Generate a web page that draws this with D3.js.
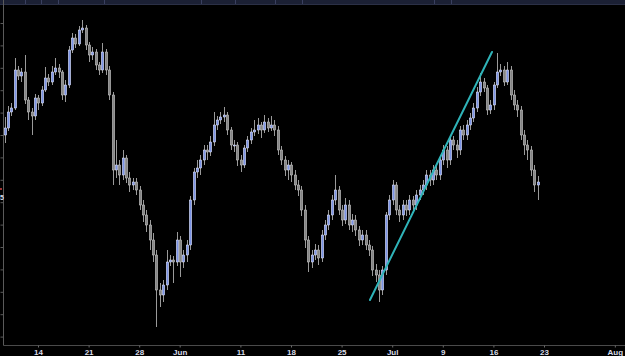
<!DOCTYPE html>
<html>
<head>
<meta charset="utf-8">
<script src="https://cdn.jsdelivr.net/npm/d3@7/dist/d3.min.js"></script>
<style>
html,body{margin:0;padding:0;background:#000;}
svg{display:block;}
</style>
</head>
<body>
<svg id="chart" width="625" height="356"></svg>
<script>
// ---- DATA ----
// trading-day index: 0 = May 14; 3 bars per trading day, first bar at day -3.3
const barsPerDay = 3;
const firstBarDay = -3.3;
const firstOpen = 225;
const closes = [
 232,248,252,290,284,288,260,248,244,262,
 257,270,282,278,288,292,288,265,275,310,
 322,316,330,332,315,305,308,295,290,308,
 290,265,190,195,185,202,182,175,178,170,
 155,145,135,120,105,70,65,75,98,100,
 98,120,98,105,115,160,188,192,200,210,
 208,218,235,240,243,245,230,215,215,200,
 195,212,220,228,230,235,230,238,232,235,
 230,210,200,190,195,185,175,170,150,120,
 98,105,110,102,125,135,145,160,170,150,
 140,155,135,140,130,120,125,115,110,90,
 85,70,90,145,160,175,150,145,155,150,
 160,155,165,170,175,185,180,190,185,200,
 210,200,220,215,210,230,225,235,242,252,
 268,278,272,250,255,275,288,290,278,290,
 265,255,250,225,215,210,190,175,178
];
const highs = [
 243,254,257,302,294,292,305,263,252,266,
 265,274,293,286,294,302,296,290,280,314,
 327,326,334,340,335,318,313,311,298,317,
 311,294,268,220,200,210,205,188,182,182,
 174,160,150,140,127,110,77,80,110,105,
 104,128,124,110,120,164,192,200,205,215,
 215,224,248,244,248,253,248,233,220,218,
 205,215,224,232,240,242,238,245,242,244,
 240,234,214,204,200,198,190,180,174,155,
 124,110,116,115,130,140,150,165,185,174,
 155,162,160,146,145,134,130,130,120,114,
 96,90,94,148,165,180,178,155,160,160,
 165,164,170,175,180,190,190,195,195,205,
 215,214,225,224,220,234,235,240,247,257,
 273,287,282,275,260,278,307,296,294,298,
 294,270,260,254,230,220,214,195,184
];
const lows = [
 217,229,244,250,280,278,256,240,225,240,
 250,254,268,274,275,285,282,260,258,272,
 307,312,314,327,310,298,300,290,285,287,
 285,260,175,182,175,180,177,168,170,165,
 150,138,128,110,98,33,53,58,70,94,
 77,94,83,92,98,110,155,182,185,195,
 200,204,214,230,236,238,225,210,208,194,
 188,192,208,216,224,226,222,227,228,229,
 224,205,195,184,180,178,170,164,144,112,
 88,92,100,95,98,120,130,140,155,145,
 134,136,130,128,124,114,115,110,104,84,
 78,58,65,85,140,155,145,138,140,144,
 145,150,150,160,165,170,174,175,180,180,
 195,192,195,210,202,205,220,220,230,238,
 248,264,268,245,246,250,272,284,274,275,
 260,250,243,220,205,200,184,168,160
];
// trend line (day index, price)
const trendDays = [32.8, 44.86];
const trendVals = [60, 308];
// x-axis ticks (trading-day index) and labels
const xTickDays = [0,5,10,14,20,25,30,35,40,45,50,57];
const xTickLabels = ["14","21","28","Jun","11","18","25","Jul","9","16","23","Aug"];
// y-axis (unlabelled) tick levels
const yTickVals = [337,314.6,292.2,269.8,247.4,225,202.6,180.2,157.8,135.4,113,90.6,68.2,45.8,23.4];
// top toolbar separators
const toolbarSeps = [25,41,58,104,201,235,275,302,434,451];

// ---- BUILD ----
const W = 625, H = 356;
const plotLeft = 3.5, plotBottom = 345.5;
const svg = d3.select("#chart");
svg.append("rect").attr("width",W).attr("height",H).attr("fill","#000");

const x = d3.scaleLinear().domain([0, 57]).range([38, 38 + 57*10.12]);
const y = d3.scaleLinear().domain([15, 360]).range([345, 0]);

const bars = closes.map((c,i)=>({
  t: firstBarDay + i / barsPerDay,
  o: i===0 ? firstOpen : closes[i-1],
  c: c, h: highs[i], l: lows[i]
}));

// toolbar band
svg.append("rect").attr("x",0).attr("y",0).attr("width",W).attr("height",4).attr("fill","#1b2034");
svg.append("line").attr("x1",0).attr("x2",W).attr("y1",4.5).attr("y2",4.5).attr("stroke","#2b3046").attr("stroke-width",1);
svg.selectAll("line.sep").data(toolbarSeps).enter().append("line")
  .attr("x1",d=>d+0.5).attr("x2",d=>d+0.5).attr("y1",0).attr("y2",4)
  .attr("stroke","#3a4060").attr("stroke-width",1);

svg.append("clipPath").attr("id","plotclip").append("rect")
  .attr("x",plotLeft+0.5).attr("y",5).attr("width",W-plotLeft).attr("height",plotBottom-5.5);

const g = svg.append("g").attr("clip-path","url(#plotclip)");

// wicks
g.selectAll("line.wick").data(bars).enter().append("line")
  .attr("x1",d=>Math.round(x(d.t))+0.5).attr("x2",d=>Math.round(x(d.t))+0.5)
  .attr("y1",d=>y(d.h)).attr("y2",d=>y(d.l))
  .attr("stroke","#9a9a9a").attr("stroke-width",1);

// bodies
const bw = 2.4;
g.selectAll("rect.body").data(bars).enter().append("rect")
  .attr("x",d=>Math.round(x(d.t))+0.5-bw/2)
  .attr("y",d=>y(Math.max(d.o,d.c)))
  .attr("width",bw)
  .attr("height",d=>Math.max(1, Math.abs(y(d.o)-y(d.c))))
  .attr("fill",d=>d.c>=d.o ? "#7b93e6" : "#858585")
  .attr("stroke",d=>d.c>=d.o ? "#f2f4ff" : "#d2d2d2")
  .attr("stroke-width",0.5);

// trend line
g.append("line")
  .attr("x1",x(trendDays[0])).attr("y1",y(trendVals[0]))
  .attr("x2",x(trendDays[1])).attr("y2",y(trendVals[1]))
  .attr("stroke","#2fb3b8").attr("stroke-width",2).attr("stroke-linecap","round");

// y axis
const yAxis = d3.axisLeft(y).tickValues(yTickVals).tickSize(3).tickFormat("");
const yg = svg.append("g").attr("transform",`translate(${plotLeft},0)`).call(yAxis);
yg.select(".domain").attr("stroke","#5a5a5a").attr("d",`M0,0V${plotBottom}`);
yg.selectAll(".tick line").attr("stroke","#5a5a5a");

// x axis
const xAxis = d3.axisBottom(x).tickValues(xTickDays).tickSize(2)
  .tickFormat((d,i)=>xTickLabels[i]);
const xg = svg.append("g").attr("transform",`translate(0,${plotBottom})`).call(xAxis);
xg.select(".domain").attr("stroke","#4a4a4a").attr("d",`M${plotLeft},0H${W}`);
xg.selectAll(".tick line").attr("stroke","#6a6a6a");
xg.selectAll(".tick text").attr("y",4).attr("dy","0.71em")
  .attr("fill","#d8dce8").attr("font-family","Liberation Sans, Arial, sans-serif")
  .attr("font-size","8px").attr("font-weight","bold");

// price marker at left edge
svg.append("rect").attr("x",0).attr("y",188).attr("width",2).attr("height",2).attr("fill","#a03434");
svg.append("text").attr("x",0).attr("y",200).attr("text-anchor","start")
  .attr("fill","#d8dce8").attr("font-family","Liberation Sans, Arial, sans-serif")
  .attr("font-size","7px").attr("font-weight","bold").text("5");
</script>
</body>
</html>
